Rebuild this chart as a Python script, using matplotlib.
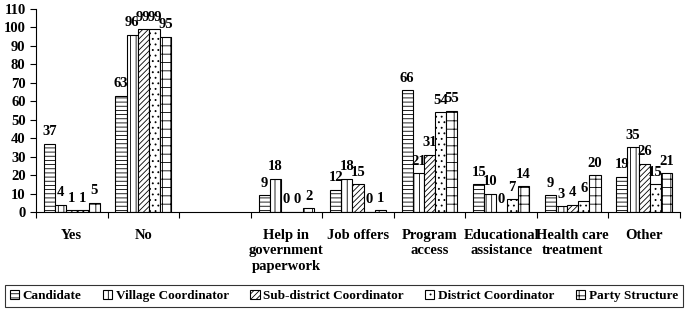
import numpy as np
import matplotlib.pyplot as plt

categories = ["Yes", "No", "", "Help in\ngovernment\npaperwork", "Job offers",
              "Program\naccess", "Educational\nassistance", "Health care\ntreatment", "Other"]
series = ["Candidate", "Village Coordinator", "Sub-district Coordinator",
          "District Coordinator", "Party Structure"]
candidate = [37, 63, None, 9, 12, 66, 15, 9, 19]
village = [4, 96, None, 18, 18, 21, 10, 3, 35]
subdistrict = [1, 99, None, 0, 15, 31, 0, 4, 26]
district = [1, 99, None, 0, 0, 54, 7, 6, 15]
party = [5, 95, None, 2, 1, 55, 14, 20, 21]

values = [candidate, village, subdistrict, district, party]
hatches = ["----", "|||", "//////", "...", "++"]

plt.rcParams['font.family'] = ['Liberation Serif', 'DejaVu Serif']
plt.rcParams['font.weight'] = 'bold'
plt.rcParams['hatch.linewidth'] = 0.6

fig = plt.figure(figsize=(6.85, 3.12), dpi=100)
ax = fig.add_axes([36 / 685, 1 - 212 / 312, 644 / 685, 203 / 312])

x = np.arange(len(categories))
w = 0.156
for i, (name, vals) in enumerate(zip(series, values)):
    xs = [xi + (i - 2) * w for xi, v in zip(x, vals) if v is not None]
    hs = [v for v in vals if v is not None]
    ax.bar(xs, hs, width=w, color='white', edgecolor='black',
           linewidth=0.8, hatch=hatches[i], label=name)
    for bx, h in zip(xs, hs):
        ax.annotate(str(h), (bx, h), xytext=(0, 4), textcoords='offset points',
                    ha='center', va='bottom', fontsize=10.5, fontweight='bold')

ax.set_xlim(-0.5, len(categories) - 0.5)
ax.set_ylim(0, 110)
ax.set_yticks(range(0, 111, 10))
ax.set_xticks(np.arange(-0.5, len(categories), 1.0))
ax.set_xticklabels([])
ax.set_xticks(x, minor=True)
ax.set_xticklabels(categories, minor=True, fontsize=10.5, fontweight='bold',
                   linespacing=1.25)
ax.tick_params(axis='x', which='minor', length=0, pad=12)
ax.tick_params(axis='x', which='major', length=4, direction='out')
ax.tick_params(axis='y', length=4, labelsize=10.5)
for lab in ax.get_yticklabels():
    lab.set_fontweight('bold')
ax.spines['top'].set_visible(False)
ax.spines['right'].set_visible(False)

leg = fig.legend(loc='center', bbox_to_anchor=(344 / 685, 1 - 296 / 312), ncol=5,
                 frameon=True, fancybox=False, edgecolor='black', fontsize=9.5,
                 handlelength=0.7, handleheight=0.7, handletextpad=0.3,
                 columnspacing=1.6, borderpad=0.35, borderaxespad=0)
leg.get_frame().set_linewidth(0.8)

fig.savefig('out.png', dpi=100, facecolor='white')
